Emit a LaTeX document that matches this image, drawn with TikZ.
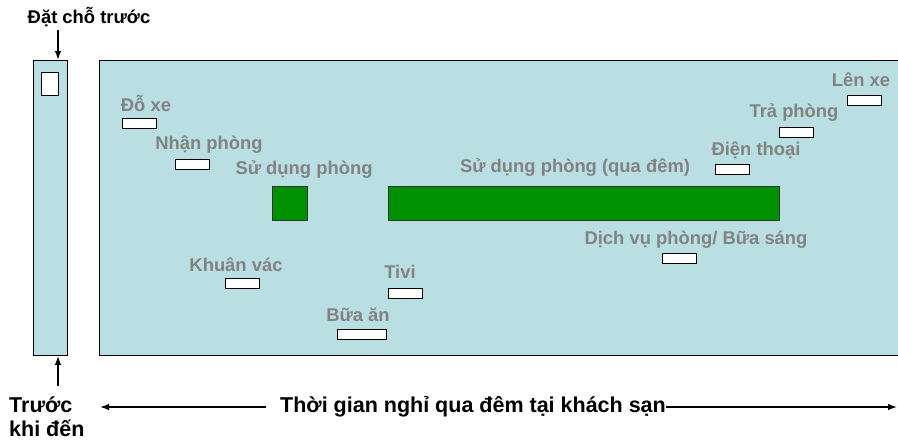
\documentclass[tikz,border=0pt]{standalone}
\usepackage{fontspec}
\setmainfont{Liberation Sans}
\usetikzlibrary{arrows.meta}
\definecolor{roomfill}{HTML}{B9DFE2}
\definecolor{labelgray}{HTML}{828282}
\definecolor{usegreen}{HTML}{009100}
\begin{document}
\begin{tikzpicture}[x=1pt,y=-1pt,
  panel/.style={draw=black, line width=0.9pt, fill=roomfill, inner sep=0pt},
  slot/.style={draw=black, line width=0.9pt, fill=white, minimum width=34pt, minimum height=10pt, inner sep=0pt},
  usebar/.style={draw=black!80, line width=0.9pt, fill=usegreen, minimum height=34pt, inner sep=0pt},
  glabel/.style={text=labelgray, font=\fontsize{18.4}{22}\selectfont\bfseries, inner sep=0pt},
  blabel/.style={text=black, font=\fontsize{18.4}{22}\selectfont\bfseries, inner sep=0pt},
  biglabel/.style={text=black, font=\fontsize{21.5}{24}\selectfont\bfseries, inner sep=0pt},
  arr/.style={-{Latex[length=9pt,width=6.5pt]}, line width=1.4pt}]
\useasboundingbox (0,0) rectangle (898,442);

% pre-arrival column and the stay panel
\node[panel, minimum width=34pt, minimum height=295pt, anchor=north west] (pre) at (33,60) {};
\node[slot, minimum width=17pt, minimum height=23pt, anchor=north west] (book) at (41,72) {};
\node[panel, minimum width=810pt, minimum height=295pt, anchor=north west] (stay) at (99,60) {};

% booking and arrival marks
\node[blabel] (booklbl) at (89,17) {Đặt chỗ trước};
\coordinate (bookTop) at (58,30);
\draw[arr] (bookTop) -- (pre.north -| bookTop);
\node[biglabel, align=left, anchor=north west] (arrlbl) at (9,397) {Trước\\khi đến};
\coordinate (arrBot) at (58,386);
\draw[arr] (arrBot) -- (pre.south -| arrBot);

% timeline of the stay
\node[biglabel] (stayline) at (473,407) {Thời gian nghỉ qua đêm tại khách sạn};
\coordinate (tlL) at (100,407);
\coordinate (tlR) at (897,407);
\draw[arr] (stayline.west) ++(-14,0) -- (tlL);
\draw[arr] (stayline.east) -- (tlR);

% guest contact points
\node[glabel] (l1) at (146,103) {Đỗ xe};
\node[slot, anchor=north west] (s1) at (122,118) {};
\node[glabel] (l2) at (209,145) {Nhận phòng};
\node[slot, anchor=north west] (s2) at (175,159) {};
\node[glabel] (l3) at (304,170) {Sử dụng phòng};
\node[usebar, minimum width=35pt, anchor=north west] (g1) at (272,186) {};
\node[glabel] (l4) at (575,168) {Sử dụng phòng (qua đêm)};
\node[usebar, minimum width=391pt, anchor=north west] (g2) at (388,186) {};
\node[glabel] (l5) at (756,150) {Điện thoại};
\node[slot, anchor=north west] (s5) at (715,164) {};
\node[glabel] (l6) at (794,113) {Trả phòng};
\node[slot, anchor=north west] (s6) at (779,127) {};
\node[glabel] (l7) at (861,80) {Lên xe};
\node[slot, anchor=north west] (s7) at (847,95) {};
\node[glabel] (l8) at (696,240) {Dịch vụ phòng/ Bữa sáng};
\node[slot, anchor=north west] (s8) at (662,253) {};
\node[glabel] (l9) at (236,265) {Khuân vác};
\node[slot, anchor=north west] (s9) at (225,278) {};
\node[glabel] (l10) at (400,272) {Tivi};
\node[slot, anchor=north west] (s10) at (388,288) {};
\node[glabel] (l11) at (358,315) {Bữa ăn};
\node[slot, minimum width=49pt, anchor=north west] (s11) at (337,329) {};
\end{tikzpicture}
\end{document}
